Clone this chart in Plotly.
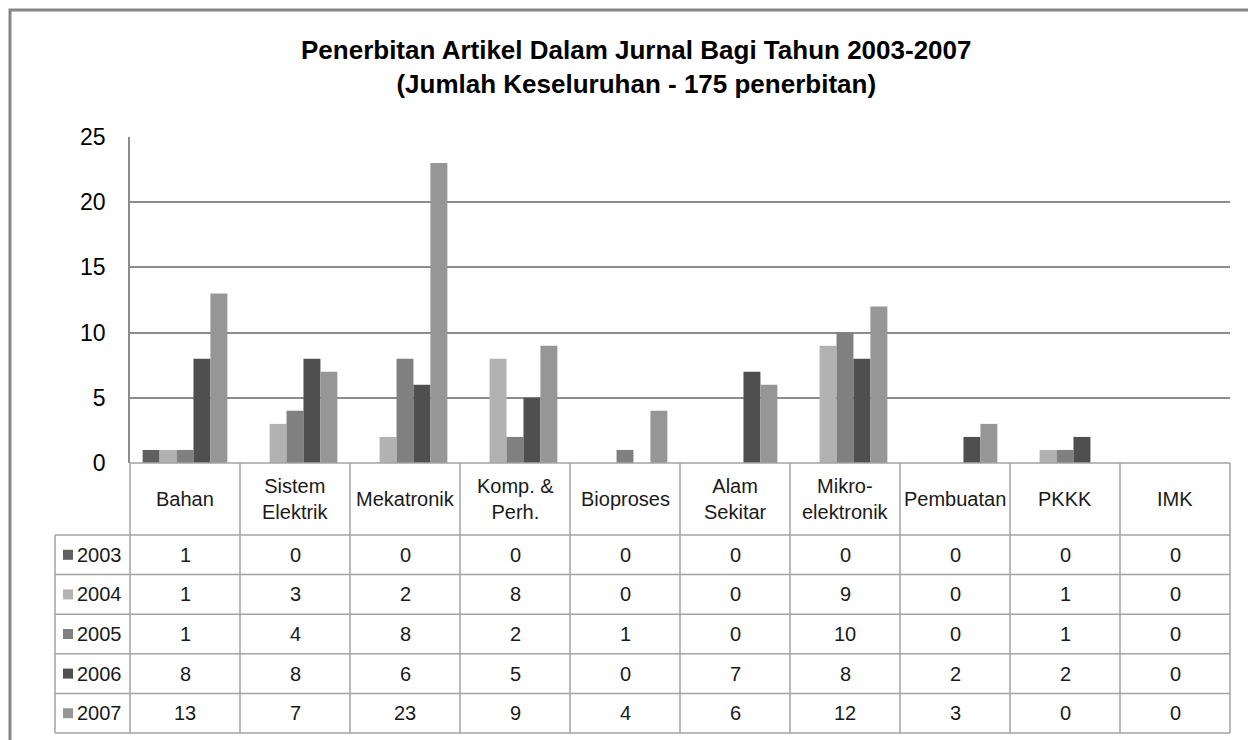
import plotly.graph_objects as go

# ── DATA ──────────────────────────────────────────────────────────────────────
categories = ["Bahan", "Sistem<br>Elektrik", "Mekatronik", "Komp. &<br>Perh.", "Bioproses",
              "Alam<br>Sekitar", "Mikro-<br>elektronik", "Pembuatan", "PKKK", "IMK"]
years = ["2003", "2004", "2005", "2006", "2007"]
v2003 = [1, 0, 0, 0, 0, 0, 0, 0, 0, 0]
v2004 = [1, 3, 2, 8, 0, 0, 9, 0, 1, 0]
v2005 = [1, 4, 8, 2, 1, 0, 10, 0, 1, 0]
v2006 = [8, 8, 6, 5, 0, 7, 8, 2, 2, 0]
v2007 = [13, 7, 23, 9, 4, 6, 12, 3, 0, 0]
series = [v2003, v2004, v2005, v2006, v2007]
colors = ["#606060", "#b2b2b2", "#808080", "#4f4f4f", "#969696"]

title_txt = "Penerbitan Artikel Dalam Jurnal Bagi Tahun 2003-2007<br>(Jumlah Keseluruhan - 175 penerbitan)"

# ── LAYOUT (pixels, page coordinates) ─────────────────────────────────────────
OFF = 8                                   # page body margin around the plot div
W, H = 1256 - OFF, 740 - OFF
PL, PR, PT, PB = 130, 1230, 137, 463      # plot area box
HDR_H = 72                                # category header row height
ROW_H = 39.6                              # data row height
TBL_L = 55                                # left edge of legend column
GRID = "#8c8c8c"
TBL_LINE = "#a3a3a3"
FONT = "Liberation Sans, Arial, sans-serif"
TXT = "#1a1a1a"


def px(x):
    return (x - PL) / (PR - PL)


def py(y):
    return (PB - y) / (PB - PT)


fig = go.Figure()
for yr, vals, c in zip(years, series, colors):
    fig.add_trace(go.Bar(x=list(range(len(categories))), y=vals, name=yr,
                         marker=dict(color=c, line=dict(width=0)), showlegend=False))

shapes = []
annotations = []

# outer chart border
shapes.append(dict(type="rect", xref="paper", yref="paper",
                   x0=px(10), x1=px(1256 + 20), y0=py(10), y1=py(740 + 20),
                   line=dict(color="#868686", width=3), layer="below"))

# table lines
ncat = len(categories)
col_w = (PR - PL) / ncat
hdr_bot = PB + HDR_H
row_tops = [hdr_bot + i * ROW_H for i in range(len(years) + 1)]
for y in row_tops:
    shapes.append(dict(type="line", xref="paper", yref="paper",
                       x0=px(TBL_L), x1=px(PR), y0=py(y), y1=py(y),
                       line=dict(color=TBL_LINE, width=1.5)))
shapes.append(dict(type="line", xref="paper", yref="paper",
                   x0=0, x1=1, y0=0, y1=0, line=dict(color=TBL_LINE, width=1.5)))
for i in range(ncat + 1):
    x = PL + i * col_w
    shapes.append(dict(type="line", xref="paper", yref="paper",
                       x0=px(x), x1=px(x), y0=0, y1=py(row_tops[-1]),
                       line=dict(color=TBL_LINE, width=1.5)))
shapes.append(dict(type="line", xref="paper", yref="paper",
                   x0=px(TBL_L), x1=px(TBL_L), y0=py(hdr_bot), y1=py(row_tops[-1]),
                   line=dict(color=TBL_LINE, width=1.5)))

# category header text
for i, cat in enumerate(categories):
    annotations.append(dict(x=i, xref="x", y=py(PB + HDR_H / 2), yref="paper",
                            text=cat, showarrow=False, yanchor="middle",
                            font=dict(family=FONT, size=20, color=TXT)))

# data rows with legend keys
for r, (yr, vals, c) in enumerate(zip(years, series, colors)):
    yc = row_tops[r] + ROW_H / 2
    shapes.append(dict(type="rect", xref="paper", yref="paper",
                       x0=px(63), x1=px(73), y0=py(yc - 5), y1=py(yc + 5),
                       fillcolor=c, line=dict(width=0)))
    annotations.append(dict(x=px(75), xref="paper", y=py(yc), yref="paper",
                            text=yr, showarrow=False, xanchor="left", yanchor="middle",
                            font=dict(family=FONT, size=20, color=TXT)))
    for i, v in enumerate(vals):
        annotations.append(dict(x=i, xref="x", y=py(yc), yref="paper",
                                text=str(v), showarrow=False, yanchor="middle",
                                font=dict(family=FONT, size=20, color=TXT)))

# title
annotations.append(dict(x=px(636), xref="paper", y=py(67), yref="paper",
                        text="<b>" + title_txt + "</b>", showarrow=False,
                        xanchor="center", yanchor="middle",
                        font=dict(family=FONT, size=26, color="#000")))

fig.update_layout(
    width=W, height=H,
    margin=dict(l=PL - OFF, r=1256 - PR, t=PT - OFF, b=740 - PB),
    paper_bgcolor="white", plot_bgcolor="white",
    barmode="group", bargap=0.23, bargroupgap=0,
    shapes=shapes, annotations=annotations,
)
fig.update_xaxes(range=[-0.5, ncat - 0.5], showticklabels=False, showgrid=False,
                 zeroline=False, showline=False)
fig.update_yaxes(range=[0, 25], dtick=5, showgrid=True, gridcolor=GRID, gridwidth=1.5,
                 zeroline=False, showline=True, linecolor=GRID, linewidth=1.5,
                 ticklabelstandoff=18,
                 tickfont=dict(family=FONT, size=23, color="#000"))

fig.write_html("out.html")
